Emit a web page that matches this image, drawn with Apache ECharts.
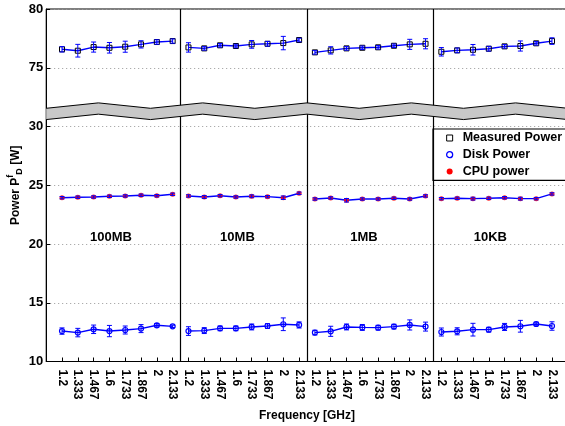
<!DOCTYPE html>
<html>
<head>
<meta charset="utf-8">
<script src="https://cdn.jsdelivr.net/npm/echarts@6/dist/echarts.min.js"></script>
<style>html,body{margin:0;padding:0;background:#fff;}#c{width:565px;height:426px;}</style>
</head>
<body>
<div id="c"></div>
<script>
// ---- data ----
const freqs = ['1.2','1.333','1.467','1.6','1.733','1.867','2','2.133'];
const panels = ['100MB','10MB','1MB','10KB'];
const yTickLabels = {10:'10',15:'15',20:'20',25:'25',30:'30',35:'75',40:'80'};

const measuredMean = [
 76.57,76.45,76.76,76.70,76.79,76.99,77.19,77.27,
 76.73,76.65,76.91,76.85,76.99,77.04,77.10,77.36,
 76.31,76.48,76.65,76.70,76.74,76.87,76.99,77.04,
 76.36,76.48,76.53,76.62,76.82,76.85,77.08,77.27];
const measuredErr = [
 0.23,0.54,0.43,0.45,0.47,0.31,0.19,0.18,
 0.40,0.15,0.15,0.15,0.33,0.20,0.57,0.15,
 0.15,0.31,0.15,0.15,0.15,0.15,0.43,0.43,
 0.36,0.20,0.45,0.20,0.15,0.43,0.15,0.28];
const cpuMean = [
 23.94,23.98,24.00,24.06,24.09,24.15,24.11,24.23,
 24.09,24.00,24.11,24.00,24.06,24.03,23.94,24.32,
 23.83,23.92,23.72,23.83,23.83,23.89,23.83,24.09,
 23.86,23.89,23.86,23.89,23.94,23.86,23.86,24.26];
const cpuErr = [
 0.10,0.10,0.10,0.10,0.10,0.10,0.10,0.10,
 0.10,0.12,0.10,0.10,0.12,0.10,0.15,0.10,
 0.10,0.10,0.15,0.10,0.10,0.10,0.10,0.10,
 0.10,0.10,0.12,0.10,0.10,0.12,0.10,0.10];
const diskMean = [
 12.59,12.46,12.74,12.59,12.68,12.80,13.08,12.99,
 12.59,12.63,12.82,12.82,12.94,13.02,13.17,13.11,
 12.46,12.57,12.94,12.90,12.88,12.97,13.11,12.97,
 12.51,12.57,12.71,12.71,12.94,13.00,13.19,13.02];
const diskErr = [
 0.27,0.36,0.36,0.48,0.34,0.34,0.15,0.10,
 0.37,0.25,0.20,0.20,0.25,0.20,0.54,0.26,
 0.20,0.43,0.25,0.25,0.20,0.20,0.43,0.38,
 0.34,0.30,0.54,0.20,0.30,0.50,0.15,0.36];

// ---- axis break: values above the break are shifted down by this amount ----
const BREAK_SHIFT = 40;
const mapV = v => (v >= 75 ? v - BREAK_SHIFT : v);

const FONT = '"Liberation Sans", Arial, Helvetica, sans-serif';
const BLUE = '#0000ff', RED = '#ff0000';
const N = freqs.length;

function buildLine(mean) {
  const out = [];
  panels.forEach((p, pi) => {
    for (let i = 0; i < N; i++) { const k = pi * N + i; out.push([k + 1, mapV(mean[k])]); }
    if (pi < panels.length - 1) out.push([pi * N + N + 0.5, '-']);
  });
  return out;
}
function buildErr(mean, err) {
  return mean.map((m, k) => [k + 1, mapV(m - err[k]), mapV(m + err[k])]);
}
function errRender(params, api) {
  const x = api.value(0);
  const lo = api.coord([x, api.value(1)]);
  const hi = api.coord([x, api.value(2)]);
  const w = 2.5;
  const st = { stroke: BLUE, lineWidth: 1 };
  return { type: 'group', children: [
    { type: 'line', shape: { x1: lo[0], y1: lo[1], x2: hi[0], y2: hi[1] }, style: st },
    { type: 'line', shape: { x1: lo[0]-w, y1: lo[1], x2: lo[0]+w, y2: lo[1] }, style: st },
    { type: 'line', shape: { x1: hi[0]-w, y1: hi[1], x2: hi[0]+w, y2: hi[1] }, style: st }
  ]};
}
function labelRender(params, api) {
  const p = api.coord([api.value(0), api.value(1)]);
  return { type: 'text', x: p[0], y: p[1], style: {
    text: panels[params.dataIndex], fill: '#000', font: 'bold 13px ' + FONT,
    textAlign: 'center', textVerticalAlign: 'middle' } };
}

// break band geometry (in axis units)
const XMAX = panels.length * N + 1;
const BAND_SEG = 10, BAND_LOW = 31.07, BAND_HIGH = 31.53, BAND_HALF = 0.48;
function bandRender(params, api) {
  const up = [], lo = [];
  for (let k = 0; k <= BAND_SEG; k++) {
    const x = XMAX * k / BAND_SEG;
    const c = (k % 2 === 1) ? BAND_HIGH : BAND_LOW;
    up.push(api.coord([x, c + BAND_HALF]));
    lo.push(api.coord([x, c - BAND_HALF]));
  }
  const poly = up.concat(lo.slice().reverse());
  return { type: 'group', children: [
    { type: 'polygon', shape: { points: poly }, style: { fill: '#c8c8c8', stroke: null } },
    { type: 'polyline', shape: { points: up }, style: { stroke: '#000', lineWidth: 1, fill: null } },
    { type: 'polyline', shape: { points: lo }, style: { stroke: '#000', lineWidth: 1, fill: null } }
  ]};
}

const chart = echarts.init(document.getElementById('c'));
const option = {
  animation: false,
  backgroundColor: '#fff',
  textStyle: { fontFamily: FONT },
  grid: { left: 46.2, top: 9, width: 521.6, height: 352.5, show: true, borderColor: '#000', borderWidth: 1,
    containLabel: false, outerBoundsMode: 'none' },
  legend: {
    orient: 'vertical', left: 433, top: 129,
    padding: [2, 40, 2, 13], itemGap: 2.7, itemWidth: 6, itemHeight: 6,
    borderColor: '#000', borderWidth: 1.2, backgroundColor: '#fff', borderRadius: 0,
    textStyle: { fontFamily: FONT, fontWeight: 'bold', fontSize: 12.5, color: '#000', lineHeight: 14, padding: [0, 0, 0, 5] },
    data: [
      { name: 'Measured Power', icon: 'rect', itemStyle: { color: '#fff', borderColor: '#000', borderWidth: 1 } },
      { name: 'Disk Power', icon: 'circle', itemStyle: { color: '#fff', borderColor: BLUE, borderWidth: 1.3 } },
      { name: 'CPU power', icon: 'circle', itemStyle: { color: RED, borderWidth: 0 } }
    ]
  },
  xAxis: {
    type: 'value', min: 0, max: XMAX, interval: 1,
    name: 'Frequency [GHz]', nameLocation: 'middle', nameGap: 48,
    nameTextStyle: { fontFamily: FONT, fontWeight: 'bold', fontSize: 12, color: '#000' },
    axisLine: { lineStyle: { color: '#000', width: 1 } },
    axisTick: { inside: true, length: 4, lineStyle: { color: '#000' } },
    splitLine: { show: false },
    axisLabel: {
      rotate: -90, margin: 8, color: '#000', fontFamily: FONT, fontWeight: 'bold', fontSize: 12,
      formatter: v => (v >= 1 && v <= panels.length * N) ? freqs[(v - 1) % N] : ''
    }
  },
  yAxis: {
    type: 'value', min: 10, max: 40, interval: 5,
    name: '{m|Power P}{sup|f}{sub|D}{m| [W]}', nameLocation: 'middle', nameGap: 22, nameRotate: 90,
    nameMoveOverlap: false,
    nameTextStyle: {
      fontFamily: FONT, fontWeight: 'bold', fontSize: 12, color: '#000',
      rich: {
        m: { fontFamily: FONT, fontWeight: 'bold', fontSize: 12, color: '#000', lineHeight: 18 },
        sup: { fontFamily: FONT, fontWeight: 'bold', fontSize: 9, color: '#000', verticalAlign: 'top', lineHeight: 18 },
        sub: { fontFamily: FONT, fontWeight: 'bold', fontSize: 9, color: '#000', verticalAlign: 'bottom', lineHeight: 18 }
      }
    },
    axisLine: { show: true, lineStyle: { color: '#000', width: 1 } },
    axisTick: { show: true, inside: true, length: 4, lineStyle: { color: '#000' } },
    splitLine: { show: true, lineStyle: { color: '#999', type: [1, 3], width: 1 } },
    axisLabel: { margin: 3, color: '#000', fontFamily: FONT, fontWeight: 'bold', fontSize: 13,
      formatter: v => yTickLabels[v] !== undefined ? yTickLabels[v] : '' }
  },
  series: [
    {
      name: 'Measured Power', type: 'line', data: buildLine(measuredMean), z: 4,
      symbol: 'rect', symbolSize: 5, showSymbol: true,
      lineStyle: { color: BLUE, width: 1.4 },
      itemStyle: { color: 'rgba(0,0,0,0)', borderColor: '#000', borderWidth: 1 },
      markLine: {
        silent: true, symbol: 'none', label: { show: false },
        lineStyle: { color: '#000', width: 1.2, type: 'solid' },
        data: panels.slice(1).map((p, i) => ({ xAxis: (i + 1) * N + 0.5 }))
      }
    },
    { name: 'mErr', type: 'custom', renderItem: errRender, data: buildErr(measuredMean, measuredErr), z: 5, encode: { x: 0, y: [1, 2] } },
    {
      name: 'Disk Power', type: 'line', data: buildLine(diskMean), z: 4,
      symbol: 'circle', symbolSize: 5,
      lineStyle: { color: BLUE, width: 1.4 },
      itemStyle: { color: 'rgba(0,0,0,0)', borderColor: BLUE, borderWidth: 1.2 }
    },
    { name: 'dErr', type: 'custom', renderItem: errRender, data: buildErr(diskMean, diskErr), z: 5, encode: { x: 0, y: [1, 2] } },
    {
      name: 'CPU power', type: 'line', data: buildLine(cpuMean), z: 4,
      symbol: 'circle', symbolSize: 5,
      lineStyle: { color: BLUE, width: 1.4 },
      itemStyle: { color: 'rgba(255,0,0,0.85)', borderWidth: 0 }
    },
    { name: 'cErr', type: 'custom', renderItem: errRender, data: buildErr(cpuMean, cpuErr), z: 5, encode: { x: 0, y: [1, 2] } },
    {
      name: 'panelLabels', type: 'custom', renderItem: labelRender, silent: true, z: 6,
      data: panels.map((p, i) => [i * N + 4.1, 20.6])
    },
    { name: 'break', type: 'custom', renderItem: bandRender, data: [[0, 31]], z: 10, silent: true }
  ]
};
chart.setOption(option);
</script>
</body>
</html>
